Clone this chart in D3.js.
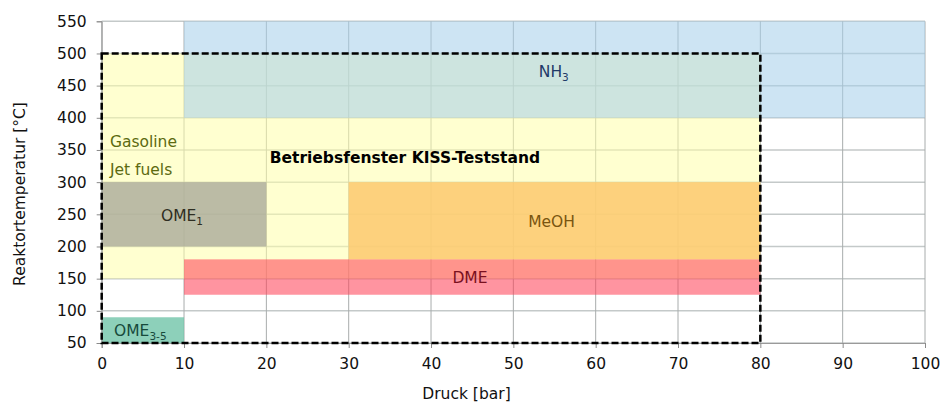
<!DOCTYPE html>
<html>
<head>
<meta charset="utf-8">
<script src="https://cdn.jsdelivr.net/npm/d3@7"></script>
<style>
  body { margin: 0; background: #fff; }
  svg { display: block; font-family: "DejaVu Sans", sans-serif; }
</style>
</head>
<body>
<svg id="chart" width="941" height="403"></svg>
<script>
// ---- data ----
const regionNames = ["Gasoline/Jet fuels", "NH3", "MeOH", "DME", "OME1", "OME3-5"];
const pressureMin = [0, 10, 30, 10, 0, 0];
const pressureMax = [80, 100, 80, 80, 20, 10];
const tempMin = [150, 400, 180, 125, 200, 50];
const tempMax = [500, 550, 300, 180, 300, 90];

const windowPressure = [0, 80];
const windowTemp = [50, 500];
const windowLabel = "Betriebsfenster KISS-Teststand";

const xTicks = [0, 10, 20, 30, 40, 50, 60, 70, 80, 90, 100];
const yTicks = [50, 100, 150, 200, 250, 300, 350, 400, 450, 500, 550];

// ---- styles (separate from data) ----
const FS = 15.5;
const regionFill = ["rgb(255,255,170)", "rgb(167,208,234)", "rgb(253,201,111)", "rgb(255,66,88)", "rgb(170,170,154)", "rgb(113,196,169)"];
const regionOpacity = [0.55, 0.57, 0.85, 0.57, 0.8, 0.8];

// label anchors in data units and styles
const labels = [
  { parts: [["Gasoline", false]], x: 1.0, y: 355, color: "#5c6a10" },
  { parts: [["Jet fuels", false]], x: 1.0, y: 311, color: "#5c6a10" },
  { parts: [["NH", false], ["3", true]], x: 53.1, y: 464, color: "#1f3a68" },
  { parts: [["MeOH", false]], x: 51.8, y: 231, color: "#7a5510" },
  { parts: [["DME", false]], x: 42.6, y: 144, color: "#7a1020" },
  { parts: [["OME", false], ["1", true]], x: 7.2, y: 239, color: "#2e2e22" },
  { parts: [["OME", false], ["3-5", true]], x: 1.5, y: 60.3, color: "#174a3c" }
];

const svg = d3.select("#chart");
const x = d3.scaleLinear().domain([0, 100]).range([101.7, 925]);
const y = d3.scaleLinear().domain([50, 550]).range([343, 21.3]);

// grid
const grid = svg.append("g");
grid.selectAll("line.h").data(yTicks).join("line")
  .attr("x1", x(0)).attr("x2", x(100))
  .attr("y1", d => y(d)).attr("y2", d => y(d))
  .attr("stroke", "#c4c9c9").attr("stroke-width", 1.5);
grid.selectAll("line.v").data(xTicks).join("line")
  .attr("y1", y(50)).attr("y2", y(550))
  .attr("x1", d => x(d)).attr("x2", d => x(d))
  .attr("stroke", "#a8acac").attr("stroke-width", 1);

// regions
const regions = regionNames.map((n, i) => ({ n, i }));
svg.append("g").selectAll("rect").data(regions).join("rect")
  .attr("x", d => x(pressureMin[d.i]))
  .attr("width", d => x(pressureMax[d.i]) - x(pressureMin[d.i]))
  .attr("y", d => y(tempMax[d.i]))
  .attr("height", d => y(tempMin[d.i]) - y(tempMax[d.i]))
  .attr("fill", d => regionFill[d.i])
  .attr("fill-opacity", d => regionOpacity[d.i]);

// axes
const xAxis = svg.append("g").attr("transform", `translate(0,${y(50)})`)
  .call(d3.axisBottom(x).tickValues(xTicks).tickSize(5).tickPadding(10));
const yAxis = svg.append("g").attr("transform", `translate(${x(0)},0)`)
  .call(d3.axisLeft(y).tickValues(yTicks).tickSize(5).tickPadding(10));
[xAxis, yAxis].forEach(a => {
  a.select(".domain").attr("stroke", "#9a9a9a");
  a.selectAll(".tick line").attr("stroke", "#8a8a8a");
  a.selectAll("text").attr("font-size", FS).attr("fill", "#111")
    .attr("font-family", '"DejaVu Sans", sans-serif');
});

// window (dashed)
svg.append("rect")
  .attr("x", x(windowPressure[0])).attr("y", y(windowTemp[1]))
  .attr("width", x(windowPressure[1]) - x(windowPressure[0]))
  .attr("height", y(windowTemp[0]) - y(windowTemp[1]))
  .attr("fill", "none").attr("stroke", "#000").attr("stroke-width", 2.5)
  .attr("stroke-dasharray", "7,3");

svg.append("text").attr("x", x(20.4)).attr("y", y(330.4))
  .attr("font-size", FS).attr("font-weight", "bold").attr("fill", "#000")
  .text(windowLabel);

// region labels
labels.forEach(l => {
  const t = svg.append("text").attr("x", x(l.x)).attr("y", y(l.y))
    .attr("font-size", FS).attr("fill", l.color);
  l.parts.forEach(([s, sub]) => {
    const ts = t.append("tspan").text(s);
    if (sub) ts.attr("font-size", 10.5).attr("dy", 4);
  });
});

// axis titles
svg.append("text").attr("x", 466.5).attr("y", 399)
  .attr("font-size", FS).attr("fill", "#111").attr("text-anchor", "middle")
  .text("Druck [bar]");
svg.append("text").attr("transform", `translate(25,194) rotate(-90)`)
  .attr("font-size", FS).attr("fill", "#111").attr("text-anchor", "middle")
  .text("Reaktortemperatur [°C]");
</script>
</body>
</html>
